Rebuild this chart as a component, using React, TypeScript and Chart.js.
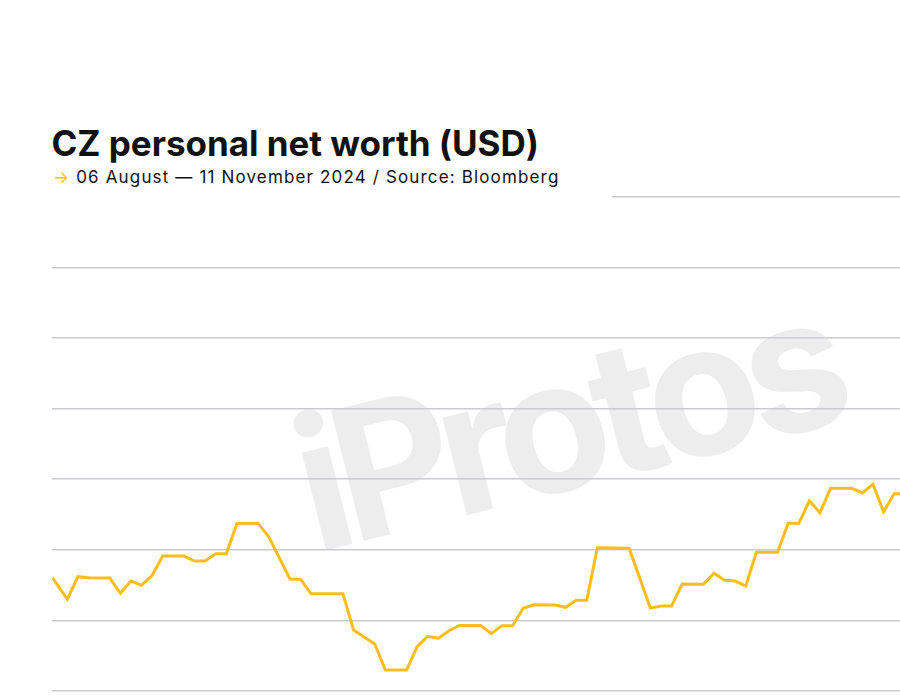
import React, { useEffect, useRef } from "react";
import { Chart, registerables } from "chart.js";

Chart.register(...registerables);

// trading-step index of each plotted vertex (first point sits at the left edge)
const steps = [-1.42, 0, 1, 2, 4, 5, 6, 7, 8, 9, 11, 12, 13, 14, 15, 16, 18, 19, 21, 22, 23, 26, 27, 29, 30, 32, 33, 34, 35, 36, 37, 39, 40, 41, 42, 43, 44, 46, 47, 48, 49, 50, 53, 55, 56, 57, 58, 60, 61, 62, 63, 64, 65, 67, 68, 69, 70, 71, 72, 74, 75, 76, 77, 78, 79];
// estimated net worth, USD billions
const netWorth = [38.02, 36.49, 38.09, 38.02, 38.0, 36.91, 37.78, 37.48, 38.19, 39.55, 39.55, 39.2, 39.2, 39.72, 39.72, 41.86, 41.86, 40.92, 37.93, 37.9, 36.88, 36.88, 34.31, 33.32, 31.48, 31.48, 33.13, 33.87, 33.73, 34.26, 34.63, 34.63, 34.05, 34.62, 34.62, 35.85, 36.1, 36.08, 35.92, 36.42, 36.42, 40.14, 40.1, 35.87, 36.01, 36.01, 37.57, 37.55, 38.33, 37.83, 37.78, 37.43, 39.82, 39.82, 41.87, 41.87, 43.45, 42.62, 44.35, 44.35, 44.02, 44.63, 42.69, 43.97, 43.97];

const yMin = 30;
const yMax = 65;
const yStep = 5;
const xMin = -1.42;
const xMax = 78.55;

const TITLE = "CZ personal net worth (USD)";
const SUBTITLE = "06 August \u2014 11 November 2024 / Source: Bloomberg";
const WATERMARK = "iProtos";

const watermarkPlugin = {
  id: "watermark",
  beforeDraw(chart: any) {
    const ctx = chart.ctx as CanvasRenderingContext2D;
    ctx.save();
    ctx.translate(315, 553);
    ctx.rotate((-14 * Math.PI) / 180);
    ctx.font = "700 184px Inter";
    ctx.fillStyle = "#ededed";
    (ctx as any).letterSpacing = "-12px";
    ctx.textBaseline = "alphabetic";
    ctx.fillText(WATERMARK, 0, 0);
    ctx.restore();
  },
};

export default function App() {
  const ref = useRef<HTMLCanvasElement>(null);

  useEffect(() => {
    document.body.style.margin = "0";
    const points = steps.map((s, i) => ({ x: s, y: netWorth[i] }));
    const chart = new Chart(ref.current as HTMLCanvasElement, {
      type: "line",
      data: {
        datasets: [
          {
            data: points,
            borderColor: "#fbbd1e",
            borderWidth: 3,
            pointRadius: 0,
            pointHoverRadius: 0,
            tension: 0,
            fill: false,
            clip: 0,
          } as any,
        ],
      },
      options: {
        animation: false,
        responsive: false,
        devicePixelRatio: 1,
        layout: { padding: { left: 52.3, right: 0, top: 196.7, bottom: 9.1 } },
        plugins: { legend: { display: false }, tooltip: { enabled: false }, title: { display: false } },
        scales: {
          x: { type: "linear", min: xMin, max: xMax, display: false },
          y: {
            min: yMin,
            max: yMax,
            ticks: { display: false, stepSize: yStep },
            border: { display: false },
            grid: { color: "#c9cbcf", lineWidth: 1.5, drawTicks: false },
          },
        },
      },
      plugins: [watermarkPlugin],
    });
    return () => chart.destroy();
  }, []);

  return (
    <div style={{ position: "fixed", left: 0, top: 0, width: 900, height: 700, background: "#fff", overflow: "hidden" }}>
      <canvas ref={ref} width={900} height={700} style={{ position: "absolute", left: 0, top: 0 }} />
      <div style={{ position: "absolute", left: 0, top: 0, width: 612, height: 205, background: "#fff" }} />
      <div
        style={{
          position: "absolute",
          left: 51.5,
          top: 125.5,
          fontFamily: "Inter",
          fontWeight: 700,
          fontSize: 35,
          lineHeight: "35px",
          letterSpacing: "-0.03px",
          color: "#111",
          whiteSpace: "nowrap",
        }}
      >
        {TITLE}
      </div>
      <div
        style={{
          position: "absolute",
          left: 53,
          top: 168.6,
          fontFamily: "Inter",
          fontWeight: 400,
          fontSize: 17,
          lineHeight: "17px",
          letterSpacing: "1.15px",
          color: "#111",
          whiteSpace: "nowrap",
        }}
      >
        <span style={{ color: "#f9bf1f", letterSpacing: 0 }}>{"\u2192"}</span>
        <span style={{ marginLeft: 7 }}>{SUBTITLE}</span>
      </div>
    </div>
  );
}
